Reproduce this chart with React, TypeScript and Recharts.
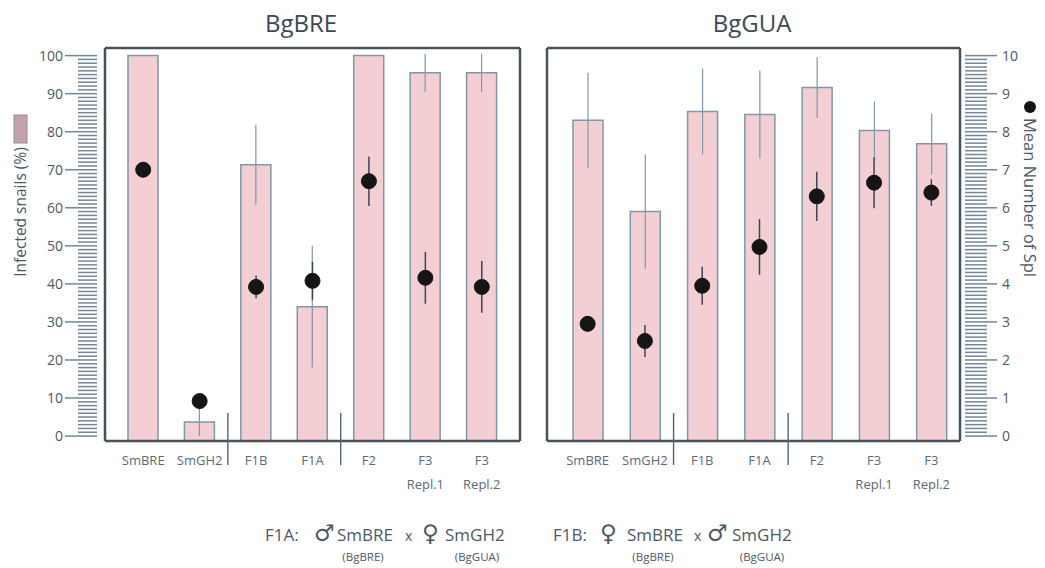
import React from 'react';
import { ComposedChart, Bar, Line, XAxis, YAxis, ErrorBar } from 'recharts';

const categories = ['SmBRE', 'SmGH2', 'F1B', 'F1A', 'F2', 'F3 Repl.1', 'F3 Repl.2'];
const groupStarts = ['F1B', 'F2'];

// BgBRE snails
const breInfected = [100, 3.7, 71.3, 34, 100, 95.5, 95.5];
const breInfectedErr = [0, 3.7, 10.5, 16, 0, 5, 5];
const breSpl = [7.0, 0.92, 3.92, 4.08, 6.7, 4.16, 3.92];
const breSplErr = [0.15, 0.2, 0.3, 0.5, 0.65, 0.68, 0.68];

// BgGUA snails
const guaInfected = [83, 59, 85.3, 84.5, 91.6, 80.3, 76.8];
const guaInfectedErr = [12.5, 15, 11.3, 11.5, 8, 7.6, 8];
const guaSpl = [2.95, 2.5, 3.95, 4.97, 6.3, 6.66, 6.4];
const guaSplErr = [0.2, 0.42, 0.5, 0.73, 0.65, 0.67, 0.35];

const pctTicks = Array.from({ length: 101 }, (_, i) => i);
const splTicks = Array.from({ length: 101 }, (_, i) => i / 10);

const PCT_MIN = -1.3;
const pctDomain = [PCT_MIN, 102];
const splDomain = [-0.13, 10.2];

const FRAME = '#46525c';
const TICK = '#71879a';
const BAR_FILL = '#f3cfd4';
const BAR_STROKE = '#7f97a8';
const FONT = "'Open Sans', sans-serif";

const buildRows = (pct: number[], pctErr: number[], spl: number[], splErr: number[]) =>
  categories.map((name, i) => ({ name, pct: pct[i], pctErr: pctErr[i], spl: spl[i], splErr: splErr[i] }));

const breRows = buildRows(breInfected, breInfectedErr, breSpl, breSplErr);
const guaRows = buildRows(guaInfected, guaInfectedErr, guaSpl, guaSplErr);

const isMajor = (v: number) => Math.abs(v - Math.round(v)) < 1e-6;

const LeftTick = (props: any) => {
  const { x, y, payload } = props;
  const v = payload.value;
  const major = v % 10 === 0;
  return (
    <g>
      <line x1={major ? x - 32 : x - 19} x2={x} y1={y} y2={y} stroke={TICK} strokeWidth={1.5} />
      {major && (
        <text x={x - 34} y={y} dy={5} textAnchor="end" fontSize={14} fill="#4d5a64" fontFamily={FONT}>
          {v}
        </text>
      )}
    </g>
  );
};

const RightTick = (props: any) => {
  const { x, y, payload } = props;
  const v = payload.value;
  const major = isMajor(v);
  return (
    <g>
      <line x1={x - 3} x2={major ? x + 29 : x + 19} y1={y} y2={y} stroke={TICK} strokeWidth={1.5} />
      {major && (
        <text x={x + 34} y={y} dy={5} textAnchor="start" fontSize={14} fill="#4d5a64" fontFamily={FONT}>
          {Math.round(v)}
        </text>
      )}
    </g>
  );
};

const makeXTick = (band: number) => (props: any) => {
  const { x, y, payload } = props;
  const [l1, l2] = String(payload.value).split(' ');
  return (
    <g>
      {groupStarts.includes(payload.value) && (
        <line x1={x - band / 2} x2={x - band / 2} y1={y - 36} y2={y + 16} stroke="#4f6575" strokeWidth={1.4} />
      )}
      <text x={x} y={y + 16} textAnchor="middle" fontSize={13} fill="#5a6b78" fontFamily={FONT}>
        {l1}
      </text>
      {l2 && (
        <text x={x} y={y + 40} textAnchor="middle" fontSize={13} fill="#5a6b78" fontFamily={FONT}>
          {l2}
        </text>
      )}
    </g>
  );
};

const Panel = ({ rows, side }: { rows: any[]; side: 'left' | 'right' }) => {
  const isLeft = side === 'left';
  const width = isLeft ? 530 : 515;
  const padding = isLeft ? { left: 10, right: 10 } : { left: 12, right: 0 };
  const plotW = isLeft ? 415 : 413;
  const band = (plotW - padding.left - padding.right) / categories.length;
  const frame = { stroke: FRAME, strokeWidth: 2.5 };
  return (
    <ComposedChart
      width={width}
      height={568}
      data={rows}
      margin={isLeft ? { top: 47, right: 9, bottom: 67, left: 0 } : { top: 47, right: 0, bottom: 67, left: 16 }}
    >
      <Bar
        xAxisId="b"
        yAxisId="l"
        dataKey={(d: any) => [PCT_MIN, d.pct]}
        barSize={30}
        fill={BAR_FILL}
        stroke={BAR_STROKE}
        strokeWidth={1.5}
        isAnimationActive={false}
      >
        <ErrorBar dataKey="pctErr" width={0} stroke={BAR_STROKE} strokeWidth={1.2} direction="y" />
      </Bar>
      <Line
        xAxisId="b"
        yAxisId="r"
        dataKey="spl"
        stroke="none"
        dot={{ r: 7.5, fill: '#151515', stroke: '#151515', strokeWidth: 1 }}
        activeDot={false}
        isAnimationActive={false}
      >
        <ErrorBar dataKey="splErr" width={0} stroke="#3a4655" strokeWidth={1.5} direction="y" />
      </Line>
      <XAxis
        xAxisId="b"
        dataKey="name"
        height={60}
        padding={padding}
        interval={0}
        tickLine={false}
        axisLine={frame}
        tick={makeXTick(band)}
      />
      <XAxis xAxisId="t" dataKey="name" orientation="top" height={1} padding={padding} tick={false} tickLine={false} axisLine={frame} />
      <YAxis
        yAxisId="l"
        orientation="left"
        width={isLeft ? 105 : 1}
        domain={pctDomain}
        ticks={isLeft ? pctTicks : undefined}
        interval={0}
        allowDataOverflow
        tickLine={false}
        axisLine={frame}
        tick={isLeft ? <LeftTick /> : false}
      />
      <YAxis
        yAxisId="r"
        orientation="right"
        width={isLeft ? 1 : 85}
        domain={splDomain}
        ticks={isLeft ? undefined : splTicks}
        interval={0}
        allowDataOverflow
        tickLine={false}
        axisLine={frame}
        tick={isLeft ? false : <RightTick />}
      />
    </ComposedChart>
  );
};

const Legend = () => (
  <svg width={1045} height={568} style={{ position: 'absolute', left: 0, top: 0, pointerEvents: 'none' }} fontFamily={FONT}>
    <text x={301} y={32} textAnchor="middle" fontSize={24} fill="#3d4a55">BgBRE</text>
    <text x={752} y={32} textAnchor="middle" fontSize={24} fill="#3d4a55">BgGUA</text>

    <rect x={14} y={115} width={13} height={28} fill="#c7a1a9" stroke="#8d8f9a" strokeWidth={1} />
    <text x={20} y={212} transform="rotate(-90 20 212)" textAnchor="middle" dominantBaseline="central" fontSize={15.5} fill="#4d5a64">
      Infected snails (%)
    </text>

    <circle cx={1030} cy={107} r={6} fill="#151515" />
    <text x={1030} y={118} transform="rotate(90 1030 118)" textAnchor="start" dominantBaseline="central" fontSize={16.5} fill="#4d5a64">
      Mean Number of Spl
    </text>

    <g fill="#4d5a64">
      <text x={265} y={541} fontSize={17}>F1A:</text>
      <text x={314} y={541} fontSize={23} fontFamily="DejaVu Sans">♂</text>
      <text x={337} y={541} fontSize={17}>SmBRE</text>
      <text x={405} y={541} fontSize={14}>x</text>
      <text x={422} y={541} fontSize={23} fontFamily="DejaVu Sans">♀</text>
      <text x={445} y={541} fontSize={17}>SmGH2</text>
      <text x={363} y={561} fontSize={11.5} textAnchor="middle">(BgBRE)</text>
      <text x={477} y={561} fontSize={11.5} textAnchor="middle">(BgGUA)</text>

      <text x={553} y={541} fontSize={17}>F1B:</text>
      <text x={600} y={541} fontSize={23} fontFamily="DejaVu Sans">♀</text>
      <text x={627} y={541} fontSize={17}>SmBRE</text>
      <text x={694} y={541} fontSize={14}>x</text>
      <text x={707} y={541} fontSize={23} fontFamily="DejaVu Sans">♂</text>
      <text x={732} y={541} fontSize={17}>SmGH2</text>
      <text x={653} y={561} fontSize={11.5} textAnchor="middle">(BgBRE)</text>
      <text x={762} y={561} fontSize={11.5} textAnchor="middle">(BgGUA)</text>
    </g>
  </svg>
);

export default function App() {
  return (
    <div style={{ position: 'absolute', left: 0, top: 0, width: 1045, height: 568, background: '#fff', fontFamily: FONT }}>
      <div style={{ position: 'absolute', left: 0, top: 0 }}>
        <Panel rows={breRows} side="left" />
      </div>
      <div style={{ position: 'absolute', left: 530, top: 0 }}>
        <Panel rows={guaRows} side="right" />
      </div>
      <Legend />
    </div>
  );
}
